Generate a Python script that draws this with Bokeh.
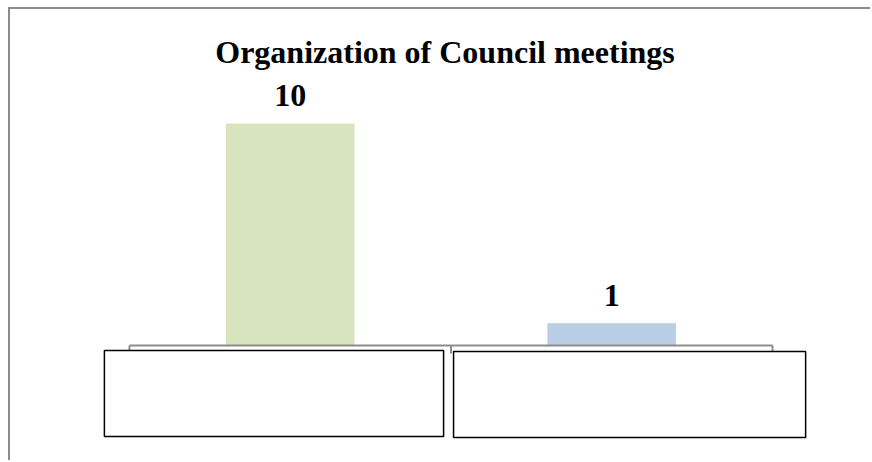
from bokeh.plotting import figure
from bokeh.models import ColumnDataSource, LabelSet, Label, Range1d
from bokeh.embed import file_html
from bokeh.resources import INLINE

# ---- data ----
title_text = "Organization of Council meetings"
category_labels = ["", ""]          # category label boxes are empty in the reference
values = [10, 1]
value_labels = ["10", "1"]
bar_colors = ["#D7E4BD", "#B9CDE5"]

# ---- style ----
FONT = "Liberation Serif"
AXIS_COLOR = "#8C8C8C"
BAR_WIDTH = 0.40
TICK_LEN = 0.36
# label boxes offsets relative to each category slot [i, i+1]
box_left_off = [-0.078, 0.008]
box_right_off = [-0.023, 0.103]
box_top = [-0.225, -0.27]
box_bottom = [-4.10, -4.14]

W, H = 862, 453

n = len(values)
xs = [i + 0.5 for i in range(n)]

src = ColumnDataSource(dict(x=xs, top=values, label=value_labels, color=bar_colors))

p = figure(width=W, height=H,
           x_range=Range1d(-0.370, 2.311), y_range=Range1d(-5.27, 15.135),
           x_axis_type=None, y_axis_type=None,
           toolbar_location=None, output_backend="svg",
           min_border=0, outline_line_color=None,
           background_fill_color="white", border_fill_color="white",
           styles={"margin-left": "8px", "margin-top": "7px",
                   "border-top": "2px solid #8C8C8C", "border-left": "2px solid #8C8C8C"})
p.grid.visible = False

p.vbar(x="x", top="top", bottom=0, width=BAR_WIDTH, fill_color="color", line_color=None, source=src)

# category axis line and ticks
p.segment(x0=[0], y0=[0], x1=[n], y1=[0], line_color=AXIS_COLOR, line_width=2)
p.segment(x0=list(range(n + 1)), y0=[0] * (n + 1), x1=list(range(n + 1)), y1=[-TICK_LEN] * (n + 1),
          line_color=AXIS_COLOR, line_width=2)

# empty category label boxes
p.quad(left=[i + box_left_off[i] for i in range(n)],
       right=[i + 1 + box_right_off[i] for i in range(n)],
       top=box_top, bottom=box_bottom,
       fill_color="white", line_color="black", line_width=1.5)

labels = LabelSet(x="x", y="top", text="label", source=src, y_offset=17,
                  text_align="center", text_baseline="alphabetic",
                  text_font=FONT, text_font_size="32px", text_font_style="bold",
                  text_color="black")
p.add_layout(labels)

title = Label(x=434.5, y=H - 42, x_units="screen", y_units="screen", text=title_text,
              text_align="center", text_baseline="alphabetic",
              text_font=FONT, text_font_size="32px", text_font_style="bold",
              text_color="black")
p.add_layout(title)

open("out.html", "w").write(file_html(p, INLINE))
